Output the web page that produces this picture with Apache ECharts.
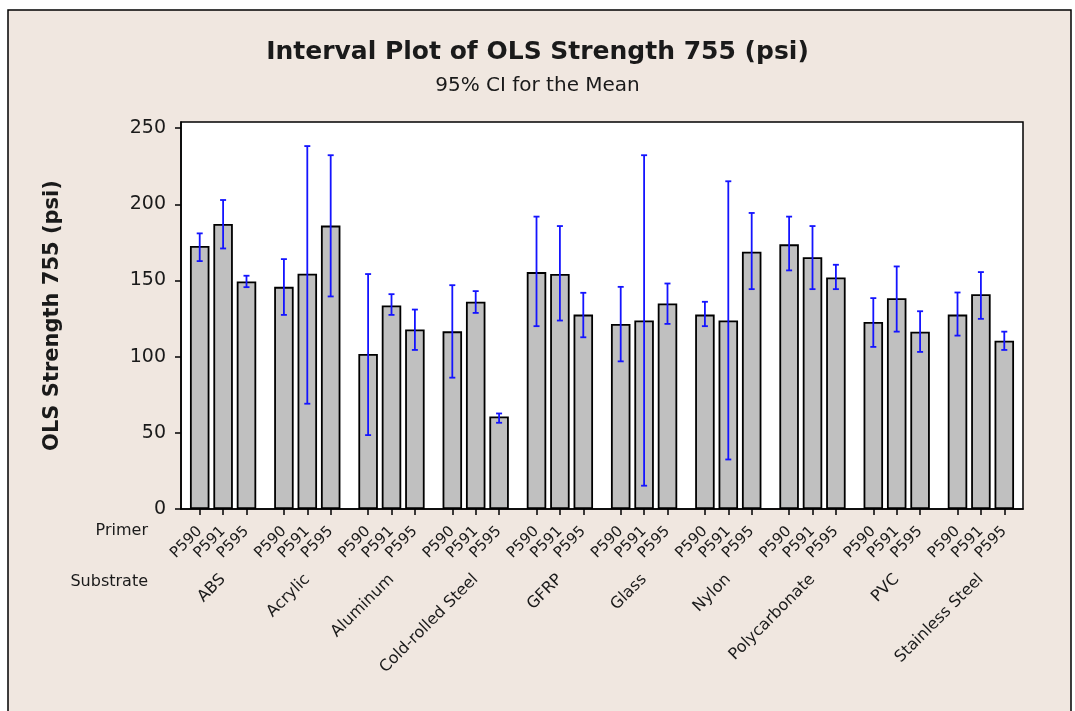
<!DOCTYPE html>
<html>
<head>
<meta charset="utf-8">
<script src="https://cdn.jsdelivr.net/npm/echarts@6/dist/echarts.min.js"></script>
<style>
html,body{margin:0;padding:0;background:#fff;}
#c{width:1075px;height:711px;}
</style>
</head>
<body>
<div id="c"></div>
<script>
// ---- data ----
const substrates = ['ABS','Acrylic','Aluminum','Cold-rolled Steel','GFRP','Glass','Nylon','Polycarbonate','PVC','Stainless Steel'];
const primers = ['P590','P591','P595'];
const meanP590 = [172.6, 145.8, 101.8, 116.6, 155.5, 121.5, 127.6, 173.7, 122.8, 127.6];
const meanP591 = [187.1, 154.4, 133.6, 136.0, 154.2, 123.7, 123.7, 165.3, 138.4, 141.0];
const meanP595 = [149.3, 186.0, 117.8, 60.7, 127.6, 134.9, 168.9, 152.0, 116.4, 110.5];
const lowP590 = [162.7, 127.4, 48.5, 86.2, 120.0, 96.9, 120.0, 156.6, 106.4, 113.8];
const lowP591 = [171.0, 69.1, 127.4, 128.7, 123.7, 15.3, 32.5, 144.3, 116.4, 124.8];
const lowP595 = [145.6, 139.5, 104.4, 56.6, 112.7, 121.5, 144.3, 144.3, 103.1, 104.4];
const highP590 = [180.9, 164.0, 154.2, 146.9, 191.9, 145.8, 136.0, 191.9, 138.4, 142.1];
const highP591 = [202.8, 238.2, 141.0, 143.0, 185.7, 232.2, 215.1, 185.7, 159.2, 155.5];
const highP595 = [153.1, 232.2, 130.9, 62.7, 141.9, 148.0, 194.3, 160.3, 129.8, 116.4];
const yTicks = [0, 50, 100, 150, 200, 250];

// ---- build ----
const GROUP = 3.6;
const means = [meanP590, meanP591, meanP595];
const lows = [lowP590, lowP591, lowP595];
const highs = [highP590, highP591, highP595];
const barData = [], errData = [], barPos = [], groupPos = [];
const primerAt = {}, substrateAt = {};
substrates.forEach((s, g) => {
  const mid = Math.round((g * GROUP + 1) * 100) / 100;
  groupPos.push(mid);
  substrateAt[Math.round(mid * 100)] = s;
  primers.forEach((p, j) => {
    const x = Math.round((g * GROUP + j) * 100) / 100;
    barPos.push(x);
    primerAt[Math.round(x * 100)] = p;
    barData.push([x, means[j][g]]);
    errData.push([x, lows[j][g], highs[j][g]]);
  });
});

const font = 'DejaVu Sans';
const txt = '#1a1a1a';
const chart = echarts.init(document.getElementById('c'), null, {renderer: 'canvas'});
chart.setOption({
  backgroundColor: '#fff',
  animation: false,
  graphic: [
    {type: 'rect', z: -10, silent: true, shape: {x: 8, y: 10, width: 1063, height: 720},
     style: {fill: '#F0E7E0', stroke: '#000', lineWidth: 1.5}},
    {type: 'text', left: 'center', top: 40, style: {text: 'Interval Plot of OLS Strength 755 (psi)', font: 'bold 25px "DejaVu Sans"', fill: txt}},
    {type: 'text', left: 'center', top: 76, style: {text: '95% CI for the Mean', font: '20px "DejaVu Sans"', fill: txt}},
    {type: 'text', right: 1075 - 148, top: 523, style: {text: 'Primer', font: '16px "DejaVu Sans"', fill: txt, align: 'right'}},
    {type: 'text', right: 1075 - 148, top: 574, style: {text: 'Substrate', font: '16px "DejaVu Sans"', fill: txt, align: 'right'}}
  ],
  grid: {left: 181, right: 52, top: 122, bottom: 202, show: true, backgroundColor: '#fff', borderColor: '#000', borderWidth: 1.5},
  xAxis: [
    {type: 'value', min: -0.8, max: 35.2, position: 'bottom',
     axisLine: {show: true, onZero: false, lineStyle: {color: '#000', width: 1.5}},
     axisTick: {show: true, inside: false, length: 6, customValues: barPos, lineStyle: {color: '#000', width: 1.5}},
     splitLine: {show: false},
     axisLabel: {customValues: barPos, rotate: 45, margin: 20, fontFamily: font, fontSize: 15, color: txt,
       formatter: v => primerAt[Math.round(v * 100)] || ''}},
    {type: 'value', min: -0.8, max: 35.2, position: 'bottom',
     axisLine: {show: false, onZero: false}, axisTick: {show: false}, splitLine: {show: false},
     axisLabel: {customValues: groupPos, rotate: 45, margin: 68, fontFamily: font, fontSize: 16, color: txt,
       formatter: v => substrateAt[Math.round(v * 100)] || ''}}
  ],
  yAxis: {
    type: 'value', min: 0, max: 254,
    name: 'OLS Strength 755 (psi)', nameLocation: 'middle', nameGap: 118, nameRotate: 90,
    nameTextStyle: {fontFamily: font, fontWeight: 'bold', fontSize: 21, color: txt},
    axisLine: {show: true, onZero: false, lineStyle: {color: '#000', width: 1.5}},
    axisTick: {show: true, length: 6, customValues: yTicks, lineStyle: {color: '#000', width: 1.5}},
    splitLine: {show: false},
    axisLabel: {customValues: yTicks, margin: 15, fontFamily: font, fontSize: 19, color: txt}
  },
  series: [
    {type: 'bar', xAxisIndex: 0, data: barData, barWidth: 19.5,
     itemStyle: {color: '#C0C0C0', borderColor: '#000', borderWidth: 1.8}},
    {type: 'custom', xAxisIndex: 0, data: errData, z: 10,
     renderItem: (params, api) => {
       const x = api.value(0);
       const lo = api.coord([x, api.value(1)]);
       const hi = api.coord([x, api.value(2)]);
       const w = 3;
       const st = {stroke: '#1414FF', lineWidth: 1.8};
       return {type: 'group', children: [
         {type: 'line', shape: {x1: lo[0], y1: lo[1], x2: hi[0], y2: hi[1]}, style: st},
         {type: 'line', shape: {x1: hi[0] - w, y1: hi[1], x2: hi[0] + w, y2: hi[1]}, style: st},
         {type: 'line', shape: {x1: lo[0] - w, y1: lo[1], x2: lo[0] + w, y2: lo[1]}, style: st}
       ]};
     }}
  ]
});
</script>
</body>
</html>
